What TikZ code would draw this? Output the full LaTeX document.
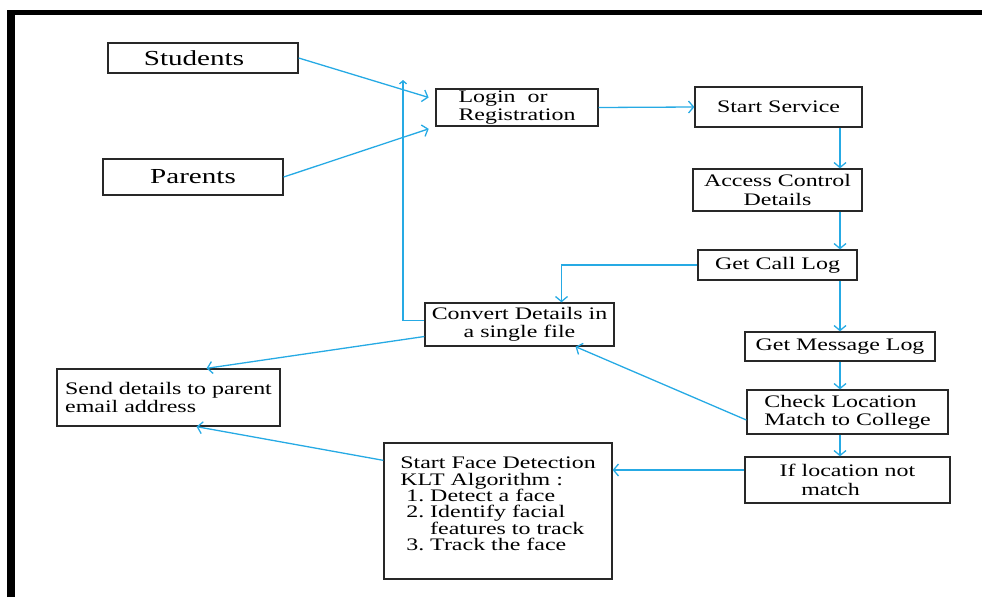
\documentclass[tikz,border=0pt]{standalone}
\usepackage{fontspec}
\setmainfont{Liberation Serif}[FakeStretch=1.36]
\usetikzlibrary{arrows.meta}
\definecolor{flowBlue}{RGB}{38,170,228}
\definecolor{boxGrey}{RGB}{40,40,40}

\begin{document}
\begin{tikzpicture}[x=1pt, y=-1pt,
    box/.style={draw=boxGrey, line width=1.3pt, inner sep=0pt,
      font=\fontsize{17.6}{18.3}\selectfont},
    flow/.style={draw=flowBlue, line width=1.3pt,
      -{Straight Barb[length=5pt, width=12pt]}}]

  \useasboundingbox (0,0) rectangle (982,597);

  % thick outer frame (left and top only)
  \draw[line width=8pt] (11,597) -- (11,10);
  \draw[line width=5pt] (7,12.5) -- (982,12.5);

  % users
  \node[box, minimum width=190, minimum height=30, font=\fontsize{21.4}{22}\selectfont]
    (stud) at (203,58) {Students\hspace*{18pt}};
  \node[box, minimum width=180, minimum height=36, font=\fontsize{21.4}{22}\selectfont]
    (par) at (193,177) {Parents};

  % main chain
  \node[box, minimum width=162, minimum height=37, align=left]
    (login) at (517,107.5) {Login~~or\\Registration};
  \node[box, minimum width=167, minimum height=40] (start) at (778.5,107) {Start Service};
  \node[box, minimum width=169, minimum height=42, align=center]
    (access) at (777.5,190) {Access Control\\Details};
  \node[box, minimum width=159, minimum height=30] (call) at (777.5,265) {Get Call Log};
  \node[box, minimum width=189, minimum height=43, align=center]
    (conv) at (519.5,324.5) {Convert Details in\\a single file};
  \node[box, minimum width=190, minimum height=29] (msg) at (840,346.5) {Get Message Log};
  \node[box, minimum width=201, minimum height=44, align=left]
    (check) at (847.5,412) {Check Location\\Match to College};
  \node[box, minimum width=205, minimum height=46, align=center]
    (notm) at (847.5,480) {If location not\\match\hspace*{34pt}};
  \node[box, minimum width=223, minimum height=57, align=left]
    (send) at (168.5,397.5) {Send details to parent\\email address};
  \node[box, minimum width=228, minimum height=136, align=left,
      font=\fontsize{17.6}{16.4}\selectfont]
    (face) at (498,511) {Start Face Detection\\KLT Algorithm :\\
      \hspace*{6pt}1.\ Detect a face\\
      \hspace*{6pt}2.\ Identify facial\\
      \hspace*{6pt}\phantom{2.\ }features to track\\
      \hspace*{6pt}3.\ Track the face\\[-2pt]\mbox{}};

  % helper points
  \coordinate (spine) at (840,0);
  \coordinate (loopTop) at (403,80);

  % connectors
  \draw[flow, shorten >=7pt] (stud.east) -- ([yshift=8pt]login.west);
  \draw[flow, shorten >=7pt] (par.east) -- (login.south west);
  \draw[flow] (login.east) -- (start.west);
  \draw[flow] (start.south -| spine) -- (access.north -| spine);
  \draw[flow] (access.south -| spine) -- (call.north -| spine);
  \draw[flow] (call.south -| spine) -- (msg.north -| spine);
  \draw[flow] (msg.south -| spine) -- (check.north -| spine);
  \draw[flow] (check.south -| spine) -- (notm.north -| spine);
  \draw[flow] (call.west) -| ([xshift=42pt]conv.north);
  \draw[flow] ([yshift=-8pt]check.west) -- ([xshift=56pt]conv.south);
  \draw[flow] ([yshift=10pt]notm.west) -- ([yshift=10pt]notm.west -| face.east);
  \draw[flow] ([yshift=-18pt]face.north west) -- ([xshift=28pt]send.south);
  \draw[flow] ([yshift=-12pt]conv.west) -- ([xshift=38pt]send.north);
  \draw[flow, -{Straight Barb[length=3pt, width=7pt]}]
    ([yshift=4pt]conv.west) -| (loopTop);

\end{tikzpicture}
\end{document}
